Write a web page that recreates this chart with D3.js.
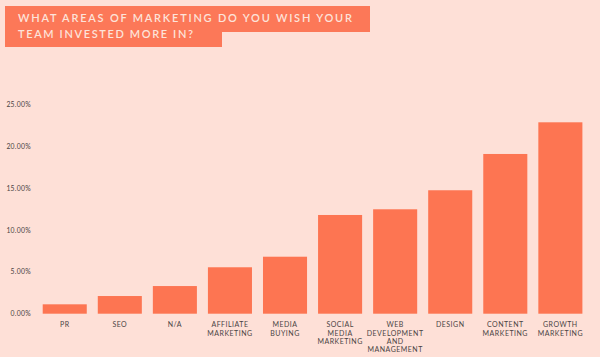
<!DOCTYPE html>
<html><head><meta charset="utf-8">
<script src="https://cdn.jsdelivr.net/npm/d3@7/dist/d3.min.js"></script>
<style>
html,body{margin:0;padding:0;background:#fee0d7;}
svg{display:block;}
</style></head>
<body>
<svg id="chart" width="600" height="357"></svg>
<script>
const categories = ["PR","SEO","N/A","AFFILIATE MARKETING","MEDIA BUYING","SOCIAL MEDIA MARKETING","WEB DEVELOPMENT AND MANAGEMENT","DESIGN","CONTENT MARKETING","GROWTH MARKETING"];
const categoryLines = [["PR"],["SEO"],["N/A"],["AFFILIATE","MARKETING"],["MEDIA","BUYING"],["SOCIAL","MEDIA","MARKETING"],["WEB","DEVELOPMENT","AND","MANAGEMENT"],["DESIGN"],["CONTENT","MARKETING"],["GROWTH","MARKETING"]];
const values = [1.12, 2.11, 3.3, 5.54, 6.8, 11.78, 12.46, 14.73, 19.06, 22.84];
const yTicks = [0, 5, 10, 15, 20, 25];
const titleLines = ["WHAT AREAS OF MARKETING DO YOU WISH YOUR", "TEAM INVESTED MORE IN?"];

const svg = d3.select("#chart");
const bg = "#fee0d7", barColor = "#fd7552", textColor = "#4a4444";

svg.append("rect").attr("width",600).attr("height",357).attr("fill",bg);

// title box
svg.append("path")
  .attr("d","M5,6 H370 V32 H222 V47 H5 Z")
  .attr("fill", "#fc7858");
const tl = [[18,22,334],[18,38,175]];
titleLines.forEach((t,i)=>{
  svg.append("text").attr("x",tl[i][0]).attr("y",tl[i][1])
    .attr("textLength",tl[i][2]).attr("lengthAdjust","spacing")
    .attr("font-family","Lato, sans-serif").attr("font-size",11).attr("font-weight",600)
    .attr("fill","#fde3da").text(t);
});

const x = d3.scaleBand().domain(categories).range([37.2, 587.9]).paddingInner(0.2).paddingOuter(0.1);
const y = d3.scaleLinear().domain([0, 25]).range([313.7, 104.2]);

// y axis
const yAxis = d3.axisLeft(y).tickValues(yTicks).tickFormat(d=>d3.format(".2f")(d)+"%").tickSize(0).tickPadding(0);
const ya = svg.append("g").attr("transform","translate(31,0)").call(yAxis);
ya.select(".domain").remove();
ya.selectAll("text").attr("font-family","Lato, sans-serif").attr("font-size",6.8).attr("fill",textColor).attr("letter-spacing","0.3px");

// bars
svg.append("g").selectAll("rect").data(values).join("rect")
  .attr("x",(d,i)=>x(categories[i]))
  .attr("y",d=>y(d))
  .attr("width",x.bandwidth())
  .attr("height",d=>y(0)-y(d))
  .attr("fill",barColor);

// x axis
const xAxis = d3.axisBottom(x).tickSize(0).tickFormat("");
const xa = svg.append("g").attr("transform",`translate(0,${y(0)})`).call(xAxis);
xa.select(".domain").remove();
xa.selectAll(".tick").each(function(d,i){
  const t = d3.select(this).append("text")
    .attr("font-family","Lato, sans-serif").attr("font-size",7).attr("fill",textColor)
    .attr("letter-spacing","0.5px").attr("text-anchor","middle");
  categoryLines[i].forEach((ln,j)=>{
    t.append("tspan").attr("x",0).attr("y",13.8 + j*8.3).text(ln);
  });
});
</script>
</body></html>
